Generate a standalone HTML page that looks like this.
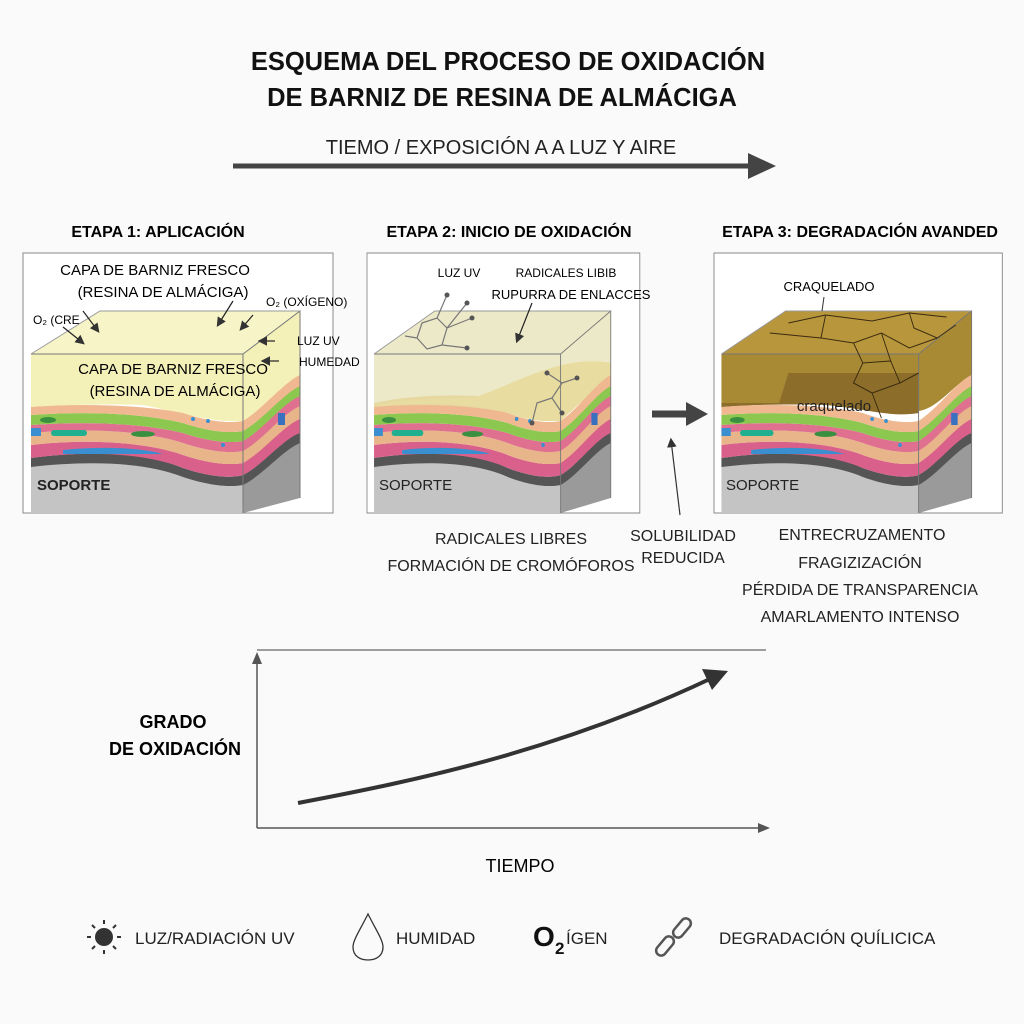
<!DOCTYPE html>
<html><head><meta charset="utf-8"><style>
body{margin:0;background:#fafafa;}
svg{display:block;font-family:"Liberation Sans",sans-serif;}
</style></head><body>
<svg width="1024" height="1024" viewBox="0 0 1024 1024" xmlns="http://www.w3.org/2000/svg">
<defs>
<marker id="ah" markerWidth="8" markerHeight="8" refX="6" refY="4" orient="auto"><path d="M0,0 L8,4 L0,8 z" fill="#333"/></marker>
<g id="layers">
  <path d="M8,212 C60,205 120,205 160,222 C190,232 210,232 220,230 L220,260 L8,260 Z" fill="#c4c4c4"/>
  <path d="M220,230 C240,220 260,195 277,188 L277,245 L220,260 Z" fill="#9a9a9a"/>
  <path d="M8,205 C60,198 120,198 160,215 C190,225 210,225 220,222 C240,212 260,185 277,178 L277,190 C260,197 240,222 220,232 C210,234 190,234 160,224 C120,208 60,208 8,214 Z" fill="#555"/>
  <path d="M8,192 C60,186 120,188 160,202 C190,212 210,212 220,210 C240,198 260,172 277,165 L277,180 C260,186 240,212 220,222 C210,225 190,225 160,215 C120,199 60,198 8,205 Z" fill="#d9608a"/>
  <path d="M8,180 C60,175 120,177 160,190 C190,200 210,200 220,198 C240,186 260,160 277,152 L277,166 C260,173 240,199 220,210 C210,212 190,212 160,202 C120,188 60,186 8,192 Z" fill="#e8b48a"/>
  <path d="M8,172 C60,168 120,170 160,180 C190,190 210,190 220,188 C240,176 260,150 277,142 L277,153 C260,160 240,187 220,198 C210,200 190,200 160,190 C120,177 60,175 8,180 Z" fill="#e07090"/>
  <path d="M8,162 C60,158 120,160 160,170 C190,180 210,180 220,178 C240,166 260,140 277,132 L277,143 C260,150 240,177 220,188 C210,190 190,190 160,180 C120,170 60,168 8,172 Z" fill="#8cc850"/>
  <path d="M8,154 C60,150 120,152 160,160 C190,170 210,170 220,168 C240,156 260,130 277,122 L277,133 C260,141 240,167 220,178 C210,180 190,180 160,170 C120,160 60,158 8,162 Z" fill="#efb890"/>
  <rect x="8" y="175" width="10" height="8" fill="#3a8fd0"/>
  <rect x="28" y="177" width="36" height="6" rx="3" fill="#20b090"/>
  <ellipse cx="25" cy="167" rx="8" ry="3" fill="#3a9040"/>
  <ellipse cx="120" cy="181" rx="12" ry="3" fill="#3a9040"/>
  <path d="M40,197 C80,193 120,195 140,201 L40,201Z" fill="#3a8fd0"/>
  <circle cx="170" cy="166" r="2" fill="#3a8fd0"/><circle cx="185" cy="168" r="2" fill="#3a8fd0"/><circle cx="200" cy="192" r="2" fill="#3a8fd0"/>
  <rect x="255" y="160" width="7" height="12" fill="#3a70c0"/>
  <path d="M8,101 L220,101 L220,260 M220,101 L277,58 L277,245" fill="none" stroke="#777" stroke-width="1"/>
  <path d="M8,101 L77,58 L277,58" fill="none" stroke="#999" stroke-width="1"/>
</g>
</defs>

<text x="508" y="70" font-size="25.5" font-weight="bold" text-anchor="middle" fill="#111">ESQUEMA DEL PROCESO DE OXIDACIÓN</text>
<text x="502" y="106" font-size="25.5" font-weight="bold" text-anchor="middle" fill="#111">DE BARNIZ DE RESINA DE ALMÁCIGA</text>
<text x="501" y="154" font-size="20" text-anchor="middle" fill="#222">TIEMO / EXPOSICIÓN A A LUZ Y AIRE</text>
<line x1="233" y1="166" x2="752" y2="166" stroke="#444" stroke-width="5"/>
<path d="M748,153 L776,166 L748,179 Z" fill="#444"/>

<text x="158" y="237" font-size="16" font-weight="bold" text-anchor="middle">ETAPA 1: APLICACIÓN</text>
<text x="509" y="237" font-size="16" font-weight="bold" text-anchor="middle">ETAPA 2: INICIO DE OXIDACIÓN</text>
<text x="860" y="237" font-size="16" font-weight="bold" text-anchor="middle">ETAPA 3: DEGRADACIÓN AVANDED</text>

<g transform="translate(23,253)">
  <rect x="0" y="0" width="310" height="260" fill="#fff" stroke="#888"/>
  <path d="M8,101 L77,58 L277,58 L277,132 C260,140 240,166 220,168 C190,170 160,160 120,152 C60,150 8,154 8,154 Z" fill="#f3f0b0" opacity="0.9"/>
  <path d="M8,101 L220,101 L277,58 L77,58Z" fill="#f7f5c8"/>
  <use href="#layers"/>
  <text x="132" y="22" font-size="15" text-anchor="middle">CAPA DE BARNIZ FRESCO</text>
  <text x="140" y="44" font-size="15" text-anchor="middle">(RESINA DE ALMÁCIGA)</text>
  <text x="10" y="71" font-size="12">O₂ (CRE</text>
  <text x="243" y="53" font-size="12">O₂ (OXÍGENO)</text>
  <text x="274" y="92" font-size="12">LUZ UV</text>
  <text x="276" y="113" font-size="12">HUMEDAD</text>
  <text x="150" y="121" font-size="15" text-anchor="middle">CAPA DE BARNIZ FRESCO</text>
  <text x="152" y="143" font-size="15" text-anchor="middle">(RESINA DE ALMÁCIGA)</text>
  <text x="14" y="237" font-size="15" font-weight="bold" fill="#222">SOPORTE</text>
  <g stroke="#222" stroke-width="1.2" fill="none" marker-end="url(#ah)">
    <line x1="40" y1="74" x2="60" y2="90"/><line x1="60" y1="58" x2="75" y2="78"/>
    <line x1="210" y1="48" x2="195" y2="72"/><line x1="230" y1="62" x2="218" y2="76"/>
    <line x1="252" y1="88" x2="237" y2="88"/><line x1="256" y1="108" x2="240" y2="108"/>
  </g>
</g>

<g transform="translate(367,253) scale(0.88,1)">
  <rect x="0" y="0" width="310" height="260" fill="#fff" stroke="#888"/>
  <path d="M8,101 L77,58 L277,58 L277,122 C260,130 240,156 220,158 C190,160 160,150 120,150 C60,150 8,154 8,154 Z" fill="#ece9c8"/>
  <path d="M8,150 C60,140 120,142 160,145 L220,150 L277,112 L277,122 C240,156 220,168 8,154Z" fill="#e6d8a0"/>
  <path d="M8,154 C60,148 120,150 160,160 C190,170 210,168 220,168 L277,122 L277,110 C220,100 160,135 120,145 C60,145 8,150 8,154Z" fill="#e8dca0"/>
  <use href="#layers"/>
</g>
<g transform="translate(367,253)">
  <text x="92" y="24" font-size="12" text-anchor="middle">LUZ UV</text>
  <text x="199" y="24" font-size="12" text-anchor="middle">RADICALES LIBIB</text>
  <text x="204" y="46" font-size="13" text-anchor="middle">RUPURRA DE ENLACCES</text>
  <line x1="165" y1="50" x2="150" y2="88" stroke="#222" stroke-width="1.2" marker-end="url(#ah)"/>
  <g stroke="#777" fill="none" stroke-width="1.2">
    <path d="M55,70 L70,65 L80,75 L75,92 L60,96 L50,85 Z"/>
    <line x1="70" y1="65" x2="80" y2="42"/><line x1="80" y1="75" x2="100" y2="50"/><line x1="80" y1="75" x2="105" y2="65"/><line x1="75" y1="92" x2="100" y2="95"/><line x1="50" y1="85" x2="38" y2="83"/>
    <path d="M180,120 L195,130 L185,145 L195,160 M185,145 L170,150 L165,170 M195,130 L210,125"/>
  </g>
  <g fill="#555"><circle cx="80" cy="42" r="2.5"/><circle cx="100" cy="50" r="2.5"/><circle cx="105" cy="65" r="2.5"/><circle cx="100" cy="95" r="2.5"/><circle cx="180" cy="120" r="2.5"/><circle cx="195" cy="160" r="2.5"/><circle cx="165" cy="170" r="2.5"/><circle cx="210" cy="125" r="2.5"/></g>
  <text x="12" y="237" font-size="15" fill="#222">SOPORTE</text>
</g>

<g transform="translate(714,253) scale(0.93,1)">
  <rect x="0" y="0" width="310" height="260" fill="#fff" stroke="#888"/>
  <path d="M8,101 L77,58 L277,58 L277,122 C260,130 240,156 220,158 C190,160 160,150 120,150 C60,150 8,154 8,154 Z" fill="#a88a35"/>
  <path d="M8,101 L220,101 L277,58 L77,58Z" fill="#b8963c"/>
  <path d="M8,150 L70,150 L80,120 L220,120 L220,160 C190,165 160,155 120,152 C60,150 8,154 8,154Z" fill="#8c6d2a"/>
  <use href="#layers"/>
  <g stroke="#3a2a10" stroke-width="1" fill="none">
    <path d="M80,70 L120,62 L170,68 L210,60 L250,64 M120,62 L115,85 L150,90 L180,80 L210,95 L240,85 M150,90 L160,110 L190,108 L200,130 L170,140 L180,165 M160,110 L150,130 L170,140 M200,130 L220,120 M180,80 L190,108 M60,80 L115,85 M210,60 L215,75 L240,85 L260,72"/>
  </g>
</g>
<g transform="translate(714,253)">
  <text x="115" y="38" font-size="13" text-anchor="middle">CRAQUELADO</text>
  <line x1="110" y1="44" x2="108" y2="58" stroke="#333"/>
  <text x="120" y="158" font-size="15" text-anchor="middle" fill="#222">craquelado</text>
  <text x="12" y="237" font-size="15" fill="#222">SOPORTE</text>
</g>

<line x1="652" y1="414" x2="688" y2="414" stroke="#444" stroke-width="7"/>
<path d="M686,402 L708,414 L686,426 Z" fill="#444"/>
<line x1="680" y1="515" x2="671" y2="440" stroke="#333" stroke-width="1.2" marker-end="url(#ah)"/>

<g font-size="16" text-anchor="middle" fill="#222">
<text x="511" y="544">RADICALES LIBRES</text>
<text x="511" y="571">FORMACIÓN DE CROMÓFOROS</text>
<text x="683" y="541">SOLUBILIDAD</text>
<text x="683" y="563">REDUCIDA</text>
<text x="862" y="540">ENTRECRUZAMENTO</text>
<text x="860" y="568">FRAGIZIZACIÓN</text>
<text x="860" y="595">PÉRDIDA DE TRANSPARENCIA</text>
<text x="860" y="622">AMARLAMENTO INTENSO</text>
</g>

<line x1="257" y1="828" x2="257" y2="658" stroke="#555" stroke-width="1.5"/>
<path d="M252,664 L257,652 L262,664Z" fill="#555"/>
<line x1="257" y1="828" x2="762" y2="828" stroke="#555" stroke-width="1.5"/>
<path d="M758,823 L770,828 L758,833Z" fill="#555"/>
<line x1="257" y1="650" x2="766" y2="650" stroke="#666" stroke-width="1.2"/>
<path d="M298,803 C420,780 560,750 712,678" fill="none" stroke="#333" stroke-width="4"/>
<path d="M702,669 L728,671 L712,690 Z" fill="#333"/>
<text x="173" y="728" font-size="18" font-weight="bold" text-anchor="middle">GRADO</text>
<text x="175" y="755" font-size="18" font-weight="bold" text-anchor="middle">DE OXIDACIÓN</text>
<text x="520" y="872" font-size="18" text-anchor="middle">TIEMPO</text>

<g transform="translate(104,937)">
  <circle r="9" fill="#333"/>
  <g stroke="#333" stroke-width="2"><line x1="-17" y1="0" x2="-13" y2="0"/><line x1="13" y1="0" x2="17" y2="0"/><line x1="0" y1="-17" x2="0" y2="-13"/><line x1="0" y1="13" x2="0" y2="17"/><line x1="-12" y1="-12" x2="-9" y2="-9"/><line x1="12" y1="12" x2="9" y2="9"/><line x1="-12" y1="12" x2="-9" y2="9"/><line x1="12" y1="-12" x2="9" y2="-9"/></g>
</g>
<text x="135" y="944" font-size="17" fill="#222">LUZ/RADIACIÓN UV</text>
<path d="M368,914 C360,930 353,940 353,947 C353,956 360,960 368,960 C376,960 383,956 383,947 C383,940 376,930 368,914Z" fill="none" stroke="#333" stroke-width="1.3"/>
<text x="396" y="944" font-size="17" fill="#222">HUMIDAD</text>
<text x="533" y="946" font-size="28" font-weight="bold" fill="#111">O</text>
<text x="555" y="954" font-size="17" font-weight="bold" fill="#111">2</text>
<text x="566" y="944" font-size="17" fill="#222">ÍGEN</text>
<g stroke="#555" stroke-width="2.5" fill="none">
  <rect x="660" y="935" width="10" height="22" rx="5" transform="rotate(40 665 946)"/>
  <rect x="677" y="917" width="10" height="22" rx="5" transform="rotate(40 682 928)"/>
</g>
<text x="719" y="944" font-size="17" fill="#222">DEGRADACIÓN QUÍLICICA</text>
</svg>
</body></html>
